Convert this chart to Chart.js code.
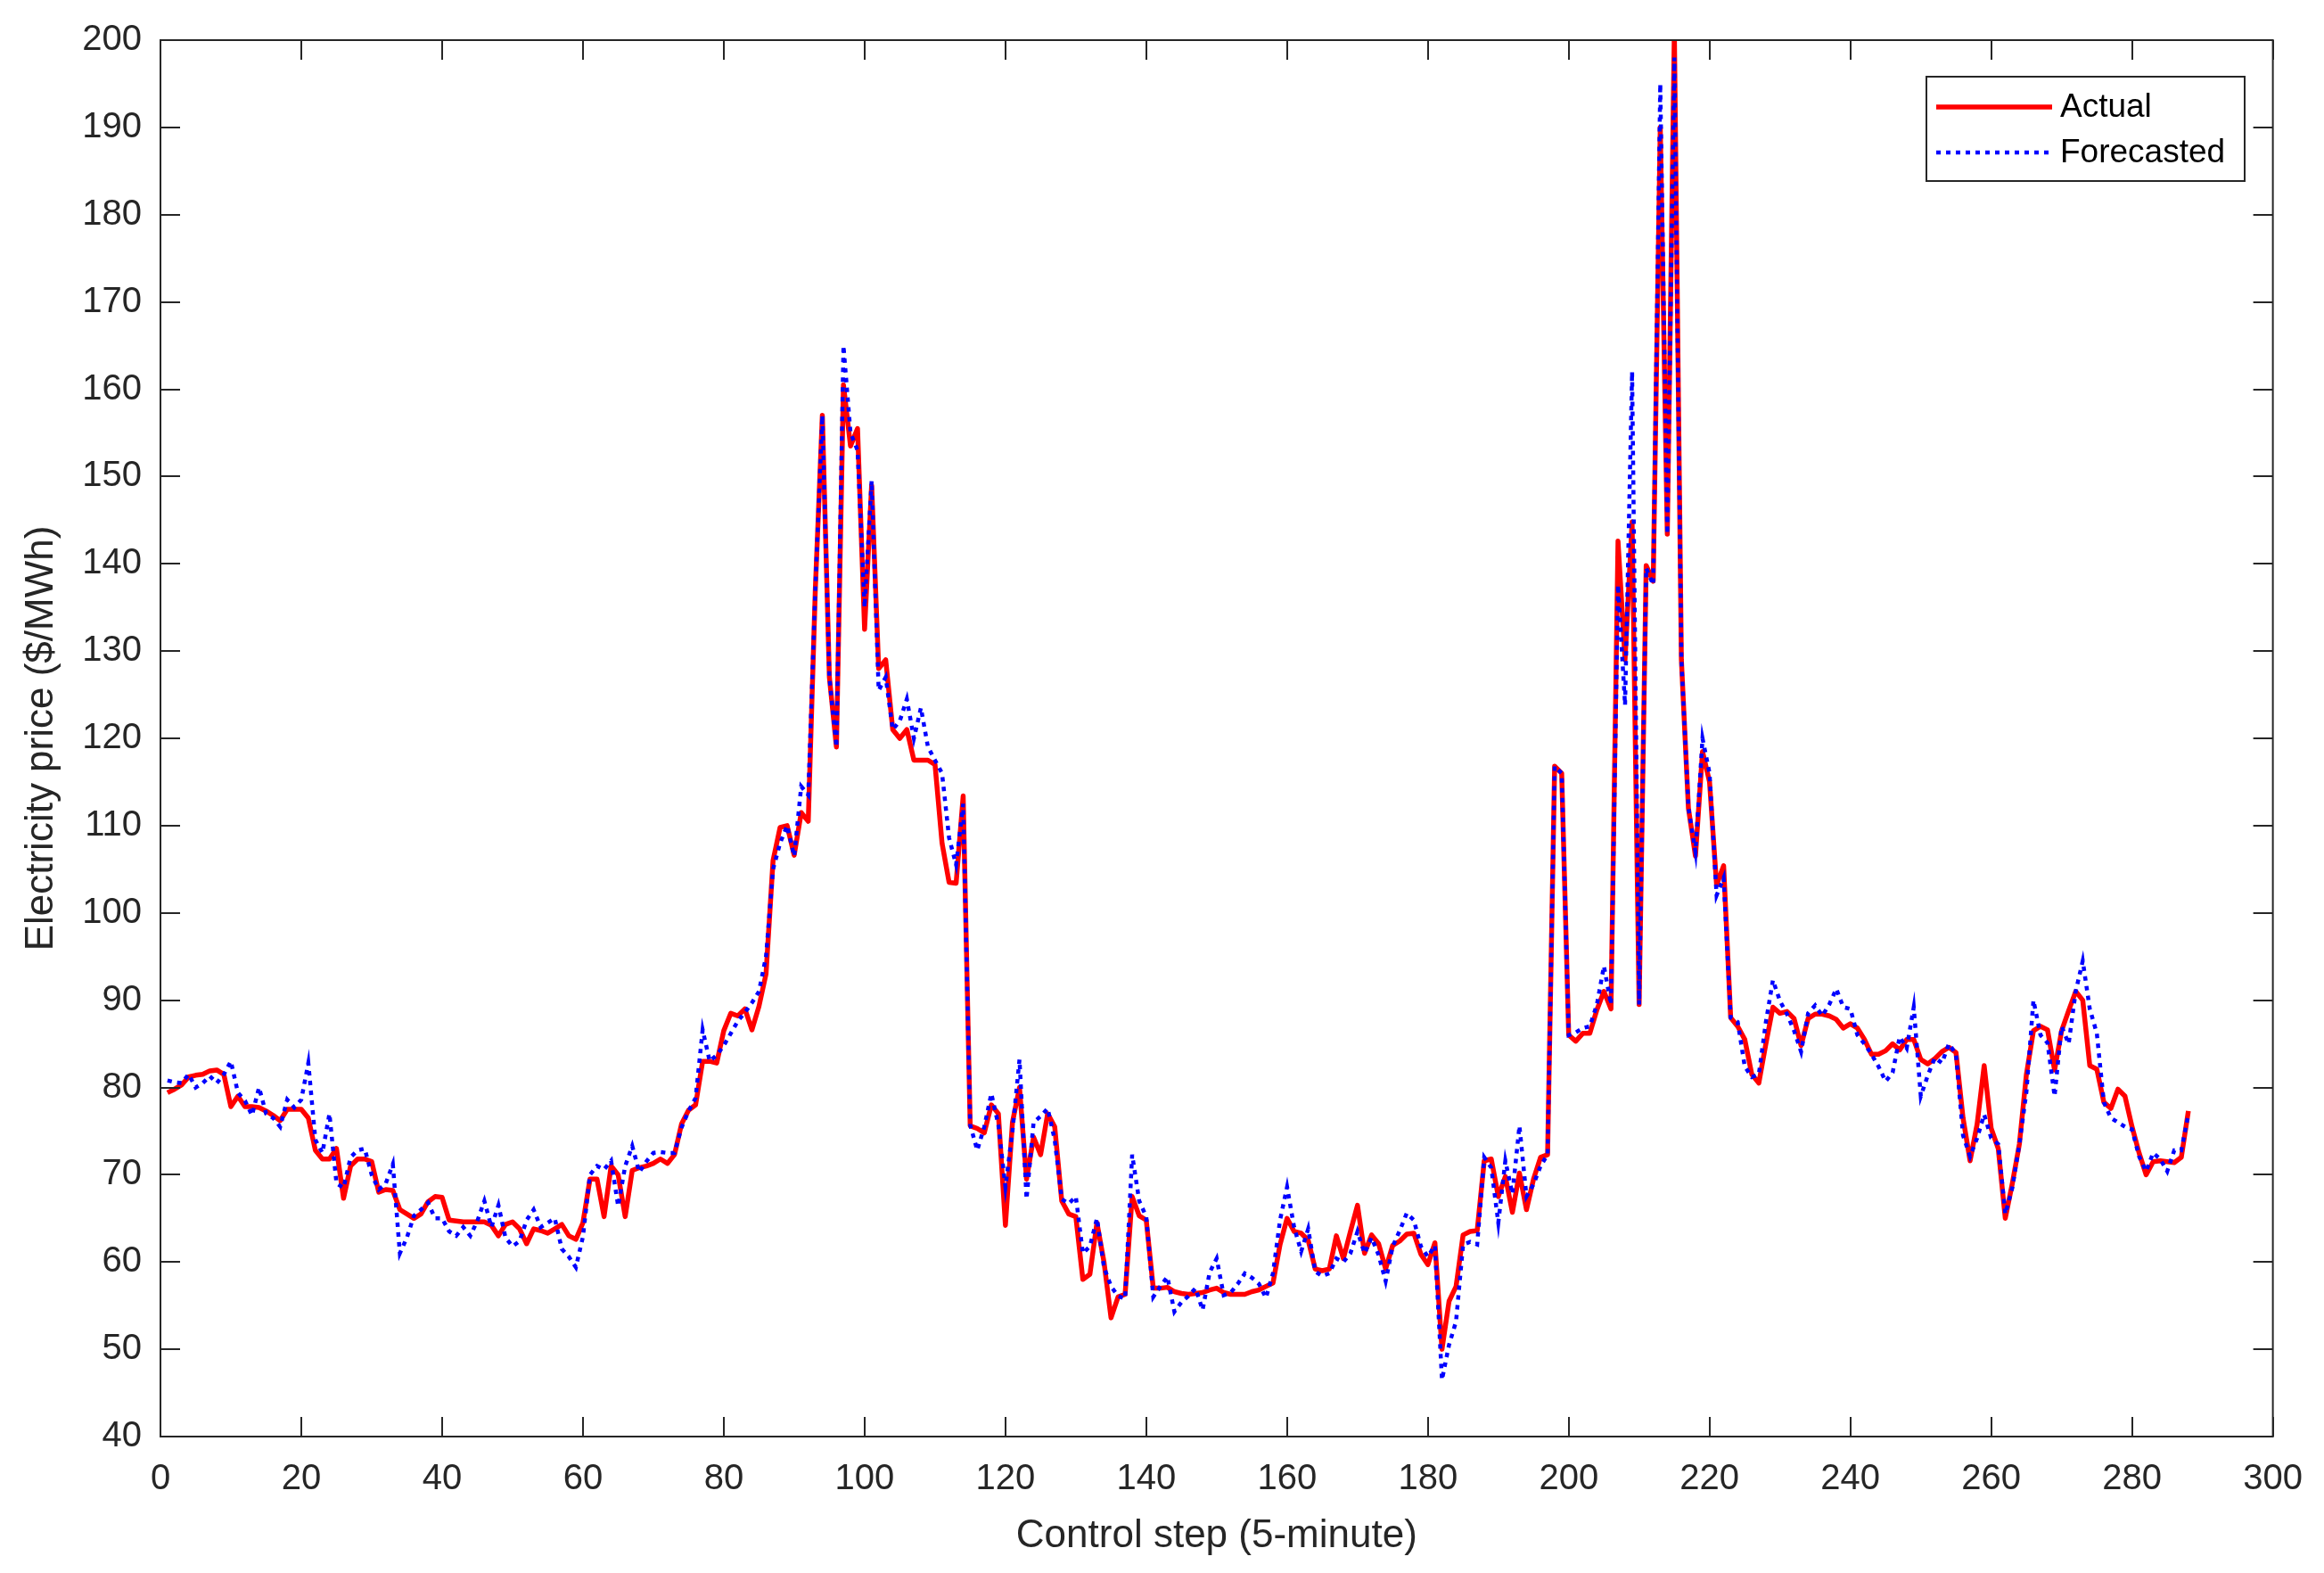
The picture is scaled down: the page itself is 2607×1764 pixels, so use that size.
<!DOCTYPE html>
<html><head><meta charset="utf-8">
<script src="https://cdn.jsdelivr.net/npm/chart.js@4/dist/chart.umd.min.js"></script>
<style>html,body{margin:0;padding:0;background:#fff}#wrap{width:2607px;height:1764px}</style>
</head><body><div id="wrap"><canvas id="c" width="2607" height="1764"></canvas></div>
<script>
const seriesLabels = ['Actual', 'Forecasted'];
const xTitle = 'Control step (5-minute)';
const yTitle = 'Electricity price ($/MWh)';
const xRange = [0, 300, 20];
const yRange = [40, 200, 10];
const firstStep = 1;

const actual = [
79.4, 79.8, 80.3, 81.2, 81.4, 81.5, 81.9, 82.0, 81.5, 77.8,
79.0, 77.8, 77.8, 77.7, 77.3, 76.8, 76.2, 77.5, 77.5, 77.5,
76.5, 72.8, 71.8, 71.8, 73.0, 67.3, 71.0, 71.8, 71.8, 71.5,
68.0, 68.3, 68.2, 66.0, 65.5, 65.0, 65.5, 66.9, 67.5, 67.4,
64.8, 64.7, 64.6, 64.6, 64.6, 64.6, 64.2, 63.0, 64.3, 64.6,
63.8, 62.1, 63.8, 63.6, 63.3, 63.8, 64.3, 63.0, 62.6, 64.5,
69.5, 69.5, 65.2, 71.0, 70.0, 65.2, 70.5, 70.8, 71.0, 71.3,
71.8, 71.3, 72.3, 75.8, 77.4, 78.0, 83.0, 83.0, 82.8, 86.5,
88.5, 88.2, 89.0, 86.6, 89.3, 93.0, 106.0, 109.8, 110.0, 106.6,
111.5, 110.5, 137.0, 157.0, 127.0, 119.0, 160.5, 153.5, 155.5, 132.5,
149.0, 128.0, 129.0, 121.0, 120.0, 121.0, 117.5, 117.5, 117.5, 117.0,
108.0, 103.5, 103.4, 113.4, 75.6, 75.3, 74.8, 78.0, 77.0, 64.2,
76.0, 80.0, 69.5, 74.3, 72.3, 77.0, 75.5, 67.0, 65.5, 65.2,
58.0, 58.6, 64.5, 60.0, 53.6, 56.0, 56.3, 67.5, 65.3, 64.8,
57.0, 57.0, 57.1, 56.6, 56.4, 56.3, 56.4, 56.5, 56.8, 57.0,
56.5, 56.3, 56.3, 56.3, 56.6, 56.8, 57.2, 57.6, 62.0, 65.0,
63.5, 63.3, 62.5, 59.2, 59.0, 59.2, 63.0, 60.4, 63.5, 66.5,
61.0, 63.1, 62.1, 59.2, 61.9, 62.4, 63.2, 63.3, 60.9, 59.7,
62.2, 50.0, 55.5, 57.2, 63.1, 63.5, 63.6, 71.6, 71.8, 67.5,
69.8, 65.7, 70.2, 66.0, 69.5, 72.0, 72.3, 116.8, 116.0, 86.0,
85.3, 86.2, 86.2, 88.9, 91.0, 89.0, 142.6, 129.0, 144.8, 89.5,
139.8, 138.0, 190.0, 143.4, 201.0, 129.0, 112.0, 106.5, 118.5, 115.0,
103.2, 105.4, 88.0, 87.0, 85.5, 81.5, 80.5, 85.0, 89.2, 88.5,
88.7, 87.9, 84.8, 87.9, 88.4, 88.4, 88.2, 87.8, 86.8, 87.3,
86.8, 85.5, 83.8, 83.8, 84.2, 85.0, 84.3, 85.5, 85.5, 83.2,
82.7, 83.3, 84.1, 84.6, 84.0, 76.5, 71.6, 75.8, 82.5, 75.3,
73.0, 65.0, 69.0, 73.5, 81.5, 86.5, 87.0, 86.6, 82.0, 86.5,
88.8, 91.0, 90.0, 82.5, 82.1, 78.3, 77.6, 79.8, 79.0, 75.5,
72.5, 70.0, 71.5, 71.6, 71.5, 71.4, 72.0, 77.3
];

const forecast = [
80.8, 80.6, 80.5, 81.5, 80.0, 80.5, 81.3, 80.5, 81.5, 83.0,
79.4, 78.5, 76.8, 80.0, 77.0, 76.5, 75.5, 78.6, 77.7, 78.6,
82.8, 74.0, 72.5, 77.0, 69.0, 68.5, 72.0, 72.8, 73.0, 70.0,
68.3, 69.0, 71.2, 61.0, 62.8, 65.3, 66.0, 66.8, 65.0, 65.0,
63.5, 63.0, 64.0, 63.0, 64.7, 67.0, 64.0, 66.5, 62.8, 61.8,
62.4, 64.8, 66.0, 64.0, 64.5, 65.0, 61.5, 60.6, 59.4, 62.9,
70.0, 71.0, 70.6, 71.6, 66.4, 71.0, 73.3, 70.3, 71.5, 72.5,
72.6, 72.5, 72.5, 75.4, 77.3, 78.8, 86.6, 83.0, 83.7, 84.8,
86.2, 87.6, 88.6, 89.7, 91.0, 95.0, 105.0, 108.0, 110.0, 106.5,
114.5, 113.5, 137.0, 157.0, 127.0, 119.0, 165.0, 155.0, 153.0, 135.0,
149.5, 125.5, 127.0, 121.0, 122.0, 124.5, 120.0, 123.5, 119.0, 117.5,
116.0, 108.6, 105.5, 112.5, 75.7, 72.8, 75.5, 79.3, 75.7, 68.6,
75.0, 83.2, 67.2, 76.0, 76.7, 77.6, 74.0, 67.2, 66.7, 67.5,
61.0, 61.8, 65.0, 59.4, 57.2, 56.1, 55.8, 72.3, 67.0, 65.2,
56.0, 57.2, 58.3, 54.3, 55.4, 56.1, 57.0, 54.5, 58.8, 60.4,
56.2, 56.5, 57.5, 58.7, 58.2, 57.5, 55.9, 58.7, 64.8, 68.6,
64.0, 61.2, 63.8, 58.9, 58.4, 58.7, 60.4, 60.0, 61.0, 63.5,
61.0, 62.8, 60.8, 57.8, 61.8, 63.6, 65.6, 64.8, 61.8, 60.6,
61.9, 46.5, 50.5, 53.2, 62.0, 62.3, 62.0, 72.0, 70.8, 64.5,
71.6, 67.8, 75.6, 67.5, 68.9, 71.0, 72.3, 116.8, 116.0, 86.0,
86.3, 86.8, 87.0, 89.5, 93.9, 89.5, 137.6, 123.8, 162.0, 89.5,
139.5, 137.6, 195.0, 143.4, 198.0, 129.0, 112.0, 107.0, 120.0, 116.0,
102.0, 104.0, 88.0, 87.5, 82.4, 81.2, 81.5, 87.5, 92.3, 89.9,
88.4, 86.5, 84.1, 88.5, 89.4, 88.2, 89.5, 91.3, 89.2, 89.0,
86.0, 85.0, 83.8, 82.4, 80.7, 81.7, 85.8, 84.5, 89.2, 79.0,
81.4, 83.4, 82.8, 85.0, 83.8, 74.5, 72.1, 74.2, 76.9, 74.2,
73.5, 65.5, 68.5, 73.5, 79.5, 90.0, 86.0, 85.1, 79.0, 87.0,
85.0, 91.0, 94.5, 89.0, 86.2, 78.3, 76.5, 76.0, 75.5, 75.2,
72.1, 70.4, 72.5, 71.8, 70.4, 72.8, 72.8, 76.9
];

const FONT = "'Liberation Sans', Arial, Helvetica, sans-serif";
const AXC = '#262626';

const toPoints = arr => arr.map((v, i) => ({x: firstStep + i, y: v}));

const boxPlugin = {
  id: 'boxTicksLegend',
  afterDatasetsDraw(chart) {
    const {ctx, chartArea: a, scales: {x, y}} = chart;
    ctx.save();
    ctx.strokeStyle = AXC;
    ctx.lineWidth = 2;
    ctx.strokeRect(a.left, a.top, a.right - a.left, a.bottom - a.top);
    const L = 22;
    ctx.beginPath();
    x.ticks.forEach(t => {
      const px = Math.round(x.getPixelForValue(t.value));
      ctx.moveTo(px, a.bottom); ctx.lineTo(px, a.bottom - L);
      ctx.moveTo(px, a.top); ctx.lineTo(px, a.top + L);
    });
    y.ticks.forEach(t => {
      const py = Math.round(y.getPixelForValue(t.value));
      ctx.moveTo(a.left, py); ctx.lineTo(a.left + L, py);
      ctx.moveTo(a.right, py); ctx.lineTo(a.right - L, py);
    });
    ctx.stroke();

    // legend box (top-right inside axes)
    const bx = 2161, by = 86, bw = 357, bh = 117;
    ctx.fillStyle = '#ffffff';
    ctx.fillRect(bx, by, bw, bh);
    ctx.strokeStyle = AXC;
    ctx.lineWidth = 2;
    ctx.strokeRect(bx, by, bw, bh);
    const rows = [120, 171];
    chart.data.datasets.forEach((ds, i) => {
      const ly = rows[i];
      ctx.save();
      ctx.strokeStyle = ds.borderColor;
      ctx.lineWidth = ds.borderWidth;
      ctx.setLineDash(ds.borderDash || []);
      ctx.beginPath();
      ctx.moveTo(2172, ly); ctx.lineTo(2302, ly);
      ctx.stroke();
      ctx.restore();
      ctx.fillStyle = '#000000';
      ctx.font = '37px ' + FONT;
      ctx.textBaseline = 'middle';
      ctx.textAlign = 'left';
      ctx.fillText(ds.label, 2311, ly + 1);
    });
    ctx.restore();
  }
};

new Chart(document.getElementById('c'), {
  type: 'line',
  data: {
    datasets: [
      {label: seriesLabels[0], data: toPoints(actual), borderColor: '#ff0000', borderWidth: 5.5,
       pointRadius: 0, tension: 0, fill: false, order: 2, borderJoinStyle: 'round'},
      {label: seriesLabels[1], data: toPoints(forecast), borderColor: '#0000ff', borderWidth: 4.5,
       borderDash: [5, 6], pointRadius: 0, tension: 0, fill: false, order: 1}
    ]
  },
  options: {
    responsive: false,
    animation: false,
    devicePixelRatio: 1,
    layout: {padding: {top: 45, right: 49, left: 0, bottom: 0}},
    plugins: {legend: {display: false}, tooltip: {enabled: false}},
    scales: {
      x: {
        type: 'linear', min: xRange[0], max: xRange[1],
        afterFit: s => { s.height = 153; },
        grid: {display: false, drawTicks: false},
        border: {display: false},
        ticks: {stepSize: xRange[2], color: AXC, padding: 24, font: {family: FONT, size: 40}, maxRotation: 0},
        title: {display: true, text: xTitle, color: AXC, font: {family: FONT, size: 44}, padding: {top: 0, bottom: 15}}
      },
      y: {
        type: 'linear', min: yRange[0], max: yRange[1],
        afterFit: s => { s.width = 180; },
        grid: {display: false, drawTicks: false},
        border: {display: false},
        ticks: {stepSize: yRange[2], color: AXC, padding: 21, font: {family: FONT, size: 40}},
        title: {display: true, text: yTitle, color: AXC, font: {family: FONT, size: 44}, padding: {top: 20, bottom: 0}}
      }
    }
  },
  plugins: [boxPlugin]
});
</script>
</body></html>
